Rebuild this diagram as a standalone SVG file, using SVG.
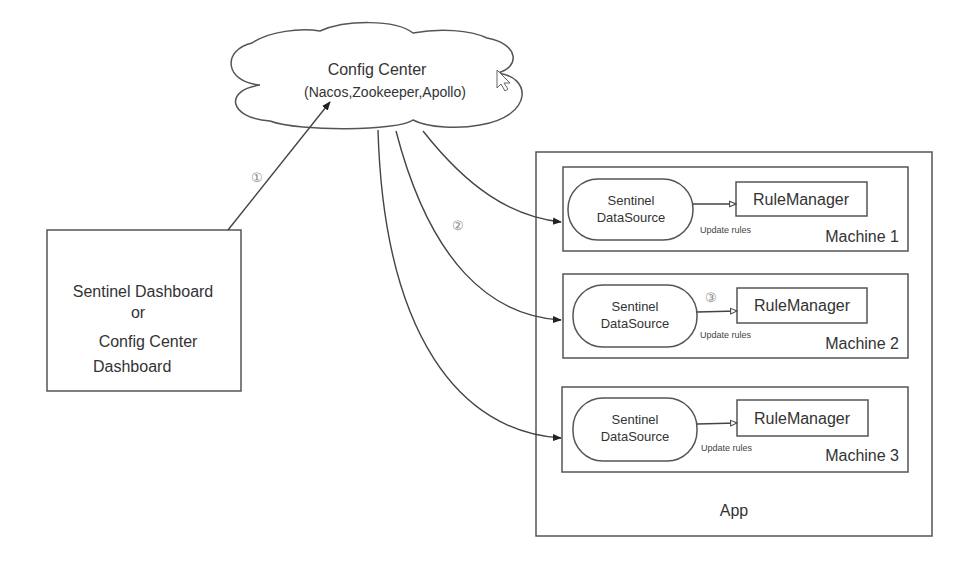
<svg xmlns="http://www.w3.org/2000/svg" width="958" height="566" viewBox="0 0 958 566">
<style>
.box{fill:#fff;stroke:#555;stroke-width:1.5}
.ln{fill:none;stroke:#444;stroke-width:1.4}
.t{font-family:"Liberation Sans",Arial,sans-serif;fill:#333}
.big{font-size:16px}
.mid{font-size:14px}
.sm{font-size:9px;fill:#444}
.num{font-size:13px;fill:#888}
</style>
<defs>
<marker id="fa" viewBox="0 0 10 10" refX="9" refY="5" markerWidth="9" markerHeight="9" markerUnits="userSpaceOnUse" orient="auto">
<path d="M0,1 L10,5 L0,9 Z" fill="#222"/>
</marker>
<marker id="oa" viewBox="0 0 10 10" refX="9" refY="5" markerWidth="8" markerHeight="8" markerUnits="userSpaceOnUse" orient="auto">
<path d="M1,1.5 L9,5 L1,8.5 Z" fill="#fff" stroke="#444" stroke-width="1.3"/>
</marker>
</defs>
<rect width="958" height="566" fill="#fff"/>

<g id="config-center">
<path class="box" d="M260,85 C224,82 222,50 252,43 C270,31 300,28 320,31 C345,20 395,19 413,33 C440,28 470,30 487,38 C520,44 520,68 497,73 C532,76 534,116 480,125 C460,129 428,128 413,120 C398,131 300,132 270,121 C228,118 224,90 260,85 Z"/>
<text class="t big" x="377" y="75" text-anchor="middle">Config Center</text>
<text class="t mid" x="385" y="97" text-anchor="middle">(Nacos,Zookeeper,Apollo)</text>
<path d="M497,70 L497,88 L501,84 L505,91 L508,89 L504,83 L510,83 Z" fill="#fff" stroke="#666" stroke-width="1"/>
</g>

<g id="dashboard">
<rect class="box" x="47" y="230" width="194" height="161"/>
<text class="t big" x="143" y="297" text-anchor="middle">Sentinel Dashboard</text>
<text class="t big" x="138" y="318" text-anchor="middle">or</text>
<text class="t big" x="148" y="347" text-anchor="middle">Config Center</text>
<text class="t big" x="93" y="372">Dashboard</text>
</g>

<g id="app">
<rect class="box" x="536" y="152" width="396" height="384"/>
<text class="t big" x="734" y="516" text-anchor="middle">App</text>
</g>

<g id="machine-1">
<rect class="box" x="563" y="167" width="345" height="84"/>
<rect class="box" x="568" y="179" width="125" height="61" rx="30" ry="30"/>
<text class="t" font-size="13" x="631" y="205" text-anchor="middle">Sentinel</text>
<text class="t" font-size="13" x="631" y="222" text-anchor="middle">DataSource</text>
<rect class="box" x="736" y="182" width="131" height="34"/>
<text class="t big" x="801" y="205" text-anchor="middle">RuleManager</text>
<text class="t big" x="899" y="242" text-anchor="end">Machine 1</text>
</g>

<g id="machine-2">
<rect class="box" x="563" y="274" width="345" height="84"/>
<rect class="box" x="573" y="285" width="124" height="62" rx="30" ry="30"/>
<text class="t" font-size="13" x="635" y="311" text-anchor="middle">Sentinel</text>
<text class="t" font-size="13" x="635" y="328" text-anchor="middle">DataSource</text>
<rect class="box" x="737" y="288" width="130" height="35"/>
<text class="t big" x="802" y="311" text-anchor="middle">RuleManager</text>
<text class="t big" x="899" y="349" text-anchor="end">Machine 2</text>
</g>

<g id="machine-3">
<rect class="box" x="562" y="387" width="346" height="85"/>
<rect class="box" x="573" y="398" width="124" height="63" rx="30" ry="30"/>
<text class="t" font-size="13" x="635" y="424" text-anchor="middle">Sentinel</text>
<text class="t" font-size="13" x="635" y="441" text-anchor="middle">DataSource</text>
<rect class="box" x="737" y="400" width="131" height="36"/>
<text class="t big" x="802" y="424" text-anchor="middle">RuleManager</text>
<text class="t big" x="899" y="461" text-anchor="end">Machine 3</text>
</g>

<g id="connectors">
<path class="ln" d="M228,230 L330,102" marker-end="url(#fa)"/>
<text class="t num" x="257" y="182" text-anchor="middle">①</text>
<path class="ln" d="M423,131 C468,188 510,216 561,222" marker-end="url(#fa)"/>
<path class="ln" d="M396,131 C430,262 490,316 561,320" marker-end="url(#fa)"/>
<path class="ln" d="M378,130 C384,335 460,432 561,438" marker-end="url(#fa)"/>
<text class="t num" x="458" y="230" text-anchor="middle">②</text>
<path class="ln" d="M693,204 L736,204" marker-end="url(#oa)"/>
<path class="ln" d="M697,312 L737,311" marker-end="url(#oa)"/>
<path class="ln" d="M697,424 L737,423" marker-end="url(#oa)"/>
<text class="t num" x="711" y="302" text-anchor="middle">③</text>
<text class="t sm" x="700" y="233">Update rules</text>
<text class="t sm" x="700" y="338">Update rules</text>
<text class="t sm" x="701" y="451">Update rules</text>
</g>
</svg>
